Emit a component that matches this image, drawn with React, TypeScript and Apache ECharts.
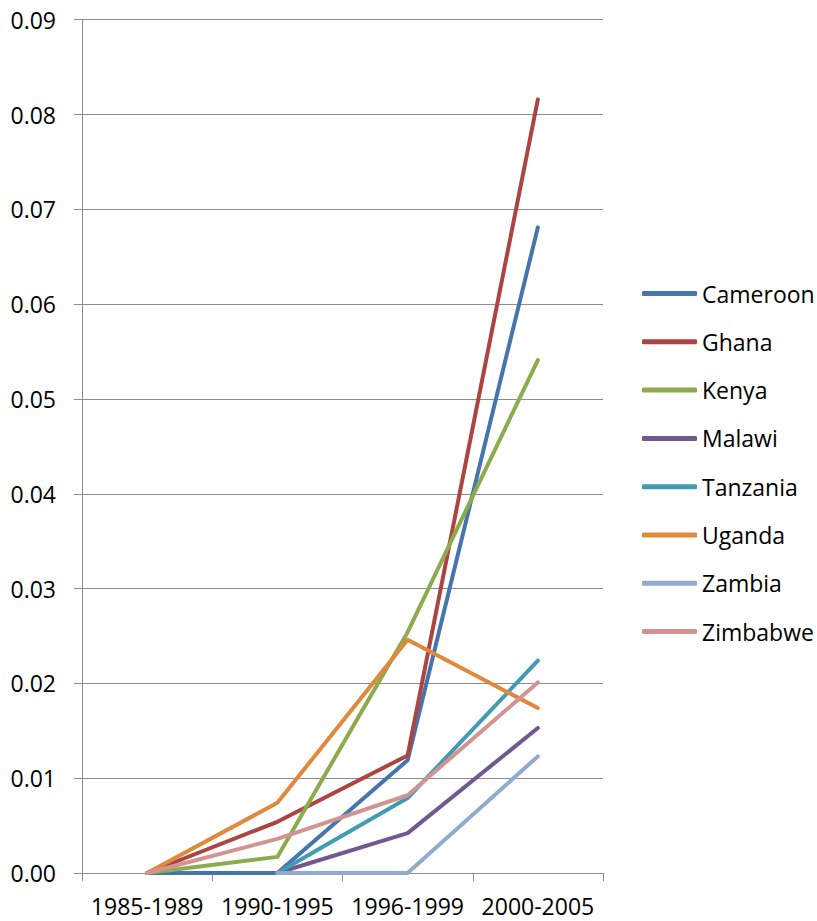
import React, { useEffect, useRef } from "react";
import * as echarts from "echarts";

const categories = ["1985-1989", "1990-1995", "1996-1999", "2000-2005"];
const cameroon = [0, 0, 0.0119, 0.0681];
const ghana = [0, 0.0054, 0.0124, 0.0816];
const kenya = [0, 0.0017, 0.0254, 0.0541];
const malawi = [null, 0, 0.0042, 0.0153];
const tanzania = [null, 0, 0.0079, 0.0224];
const uganda = [0, 0.0074, 0.0246, 0.0174];
const zambia = [null, 0, 0, 0.0123];
const zimbabwe = [0, 0.0036, 0.0082, 0.0201];

const seriesNames = ["Cameroon", "Ghana", "Kenya", "Malawi", "Tanzania", "Uganda", "Zambia", "Zimbabwe"];
const seriesData = [cameroon, ghana, kenya, malawi, tanzania, uganda, zambia, zimbabwe];
const colors = ["#4675AC", "#AC4542", "#8BAB4C", "#71588F", "#419CB3", "#E0883C", "#90AAD0", "#D39391"];

const FONT = "'Open Sans', 'Noto Sans', sans-serif";

export default function App() {
  const ref = useRef<HTMLDivElement>(null);
  useEffect(() => {
    if (!ref.current) return;
    const chart = echarts.init(ref.current, null, { renderer: "svg" });
    chart.setOption({
      animation: false,
      color: colors,
      grid: { left: 82, right: 214, top: 19.7, bottom: 48, containLabel: false },
      legend: {
        orient: "vertical",
        left: 637,
        top: 277,
        padding: 5,
        itemWidth: 55,
        itemHeight: 5,
        itemGap: 25.3,
        icon: "roundRect",
        data: seriesNames,
        textStyle: { fontFamily: FONT, fontSize: 23, color: "#000" },
      },
      xAxis: {
        type: "category",
        data: categories,
        boundaryGap: true,
        axisLine: { lineStyle: { color: "#8C8C8C", width: 1 } },
        axisTick: { show: true, length: 8, alignWithLabel: false, lineStyle: { color: "#8C8C8C" } },
        axisLabel: { fontFamily: FONT, fontSize: 23, color: "#000", margin: 21, interval: 0 },
        splitLine: { show: false },
      },
      yAxis: {
        type: "value",
        min: 0,
        max: 0.09,
        interval: 0.01,
        axisLine: { show: true, lineStyle: { color: "#8C8C8C", width: 1 } },
        axisTick: { show: true, length: 8, lineStyle: { color: "#8C8C8C" } },
        axisLabel: {
          fontFamily: FONT,
          fontSize: 23,
          color: "#000",
          margin: 26,
          formatter: (v: number) => v.toFixed(2),
        },
        splitLine: { show: true, lineStyle: { color: "#8C8C8C", width: 1 } },
      },
      series: seriesNames.map((name, i) => ({
        name,
        type: "line",
        data: seriesData[i],
        showSymbol: false,
        symbol: "none",
        connectNulls: false,
        lineStyle: { width: 4, cap: "round", join: "round", color: colors[i] },
        itemStyle: { color: colors[i] },
      })),
    });
    return () => chart.dispose();
  }, []);
  return (
    <div
      ref={ref}
      style={{ position: "absolute", left: 0, top: 0, width: 817, height: 921, background: "#fff" }}
    />
  );
}
